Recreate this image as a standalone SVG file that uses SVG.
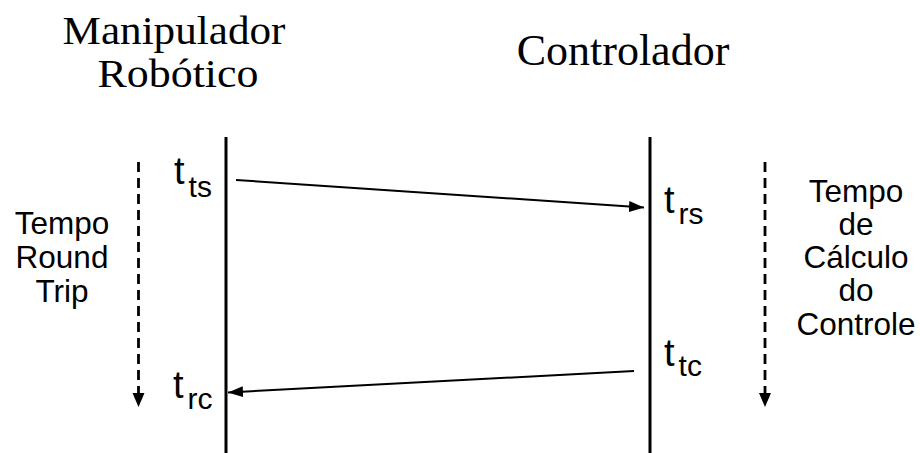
<svg xmlns="http://www.w3.org/2000/svg" width="920" height="453" viewBox="0 0 920 453">
  <defs>
    <marker id="head" markerWidth="16" markerHeight="11" refX="15" refY="5.5" orient="auto" markerUnits="userSpaceOnUse">
      <path d="M0,0 L15,5.5 L0,11 Z" fill="#000"/>
    </marker>
    <style>
      .title { font-family: "Liberation Serif", "Times New Roman", serif; fill: #000; text-anchor: middle; }
      .label { font-family: "Liberation Sans", Arial, sans-serif; font-size: 31.5px; fill: #000; text-anchor: middle; }
      .t { font-family: "Liberation Sans", Arial, sans-serif; font-size: 38px; fill: #000; }
      .sub { font-size: 30px; }
      .life { stroke: #000; stroke-width: 3; fill: none; }
      .msg { stroke: #000; stroke-width: 2; fill: none; marker-end: url(#head); }
      .span { stroke: #000; stroke-width: 2.8; stroke-dasharray: 10 6; fill: none; }
    </style>
  </defs>

  <g id="robot">
    <text class="title" x="174" y="44" font-size="39" textLength="223" lengthAdjust="spacingAndGlyphs">Manipulador</text>
    <text class="title" x="178" y="87" font-size="39" textLength="161" lengthAdjust="spacingAndGlyphs">Robótico</text>
    <line class="life" x1="226" y1="137" x2="226" y2="453"/>
  </g>

  <g id="controller">
    <text class="title" x="623" y="65" font-size="44">Controlador</text>
    <line class="life" x1="650" y1="137" x2="650" y2="453"/>
  </g>

  <g id="round-trip">
    <line class="span" x1="138.5" y1="162" x2="138.5" y2="393"/>
    <path d="M132.5,393 L144.5,393 L138.5,407 Z" fill="#000"/>
    <text class="label" x="62" y="234">Tempo</text>
    <text class="label" x="62" y="268">Round</text>
    <text class="label" x="62" y="302">Trip</text>
  </g>

  <g id="compute-time">
    <line class="span" x1="765" y1="162" x2="765" y2="393"/>
    <path d="M759,393 L771,393 L765,407 Z" fill="#000"/>
    <text class="label" x="856" y="202">Tempo</text>
    <text class="label" x="856" y="235">de</text>
    <text class="label" x="856" y="268">Cálculo</text>
    <text class="label" x="856" y="301">do</text>
    <text class="label" x="856" y="335">Controle</text>
  </g>

  <g id="t-ts"><text class="t" x="174" y="184">t<tspan class="sub" dx="4" dy="13">ts</tspan></text></g>
  <g id="t-rs"><text class="t" x="664" y="213">t<tspan class="sub" dx="4" dy="11">rs</tspan></text></g>
  <g id="t-tc"><text class="t" x="664" y="366">t<tspan class="sub" dx="4" dy="10">tc</tspan></text></g>
  <g id="t-rc"><text class="t" x="173" y="398">t<tspan class="sub" dx="4" dy="11">rc</tspan></text></g>

  <g id="connectors">
    <line class="msg" x1="236" y1="180" x2="644" y2="207.5"/>
    <line class="msg" x1="634" y1="371" x2="228" y2="392.5"/>
  </g>
</svg>
